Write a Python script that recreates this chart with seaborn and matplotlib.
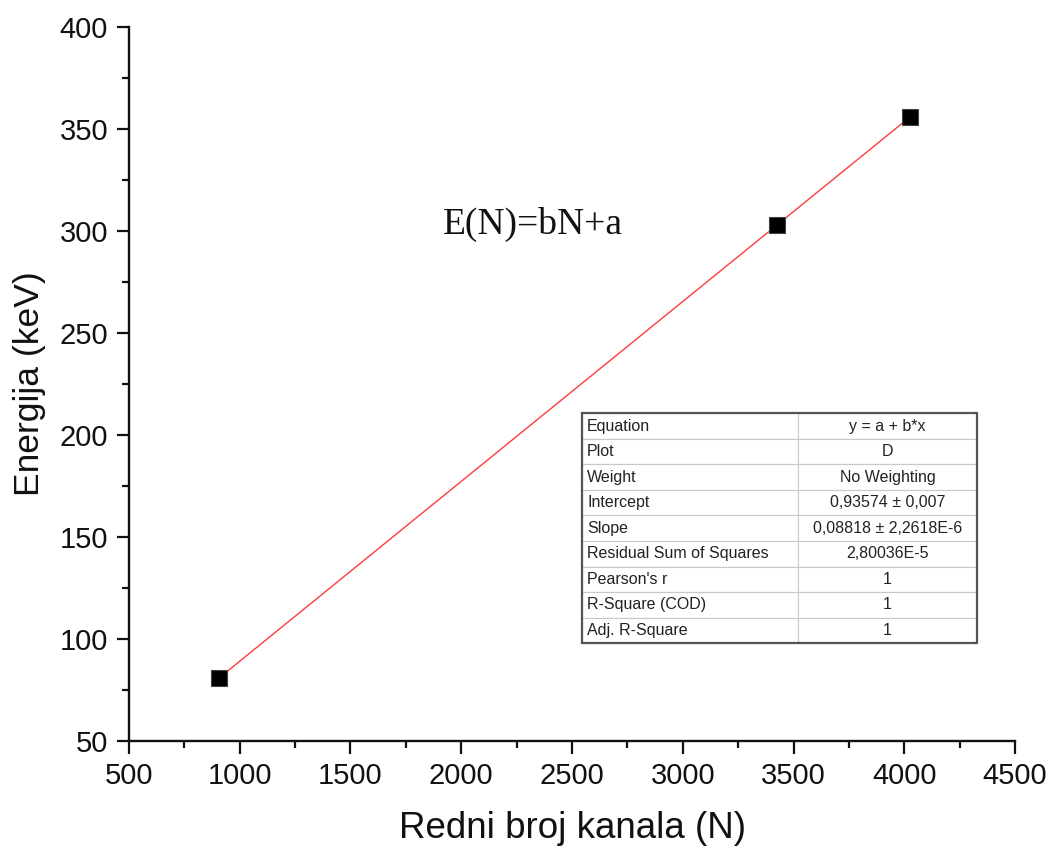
import matplotlib
matplotlib.use("Agg")
import matplotlib.pyplot as plt
import seaborn as sns
import numpy as np
import pandas as pd
from matplotlib.ticker import MultipleLocator
from matplotlib.patches import Rectangle

channels = [908, 3424, 4027]
energies = [81.0, 302.85, 356.01]

table_labels = ["Equation", "Plot", "Weight", "Intercept", "Slope",
                "Residual Sum of Squares", "Pearson's r", "R-Square (COD)", "Adj. R-Square"]
table_values = ["y = a + b*x", "D", "No Weighting", "0,93574 ± 0,007",
                "0,08818 ± 2,2618E-6", "2,80036E-5", "1", "1", "1"]

sns.set_theme(style="ticks")
plt.rcParams['font.family'] = ['Liberation Sans', 'DejaVu Sans']

df = pd.DataFrame({"N": channels, "E": energies})

fig = plt.figure(figsize=(10.51, 8.5), dpi=100)
ax = fig.add_axes([0.1227, 0.1282, 0.8431, 0.8400])

sns.regplot(data=df, x="N", y="E", ax=ax, scatter=False, ci=None,
            line_kws=dict(color="#ff3b3b", lw=1.0), truncate=True)
sns.scatterplot(data=df, x="N", y="E", ax=ax, marker="s", s=135,
                color="black", edgecolor="#444444", linewidth=0.8, zorder=5)

ax.set_xlim(500, 4500)
ax.set_ylim(50, 400)
ax.xaxis.set_major_locator(MultipleLocator(500))
ax.xaxis.set_minor_locator(MultipleLocator(250))
ax.yaxis.set_major_locator(MultipleLocator(50))
ax.yaxis.set_minor_locator(MultipleLocator(25))
ax.tick_params(which="major", direction="out", length=9, width=1.6,
               labelsize=21, colors="#111111", pad=6)
ax.tick_params(which="minor", direction="out", length=5, width=1.6, colors="#111111")
for s in ["left", "bottom"]:
    ax.spines[s].set_linewidth(1.7)
    ax.spines[s].set_color("#111111")
sns.despine(ax=ax)

ax.set_xlabel("Redni broj kanala (N)", fontsize=26.5, labelpad=15, color="#111111")
ax.set_ylabel("Energija (keV)", fontsize=25.5, labelpad=10, color="#111111")

ax.text(1918, 303, "E(N)=bN+a", fontsize=27, family=["Liberation Serif", "DejaVu Serif"],
        va="center", ha="left", color="#111111")

cell_text = [[l, v] for l, v in zip(table_labels, table_values)]
tbl = ax.table(cellText=cell_text, colWidths=[0.547, 0.453],
               bbox=[0.511, 0.137, 0.446, 0.322], zorder=6)
tbl.auto_set_font_size(False)
for (r, c), cell in tbl.get_celld().items():
    cell.set_edgecolor("#c8c8c8")
    cell.set_linewidth(0.8)
    cell.get_text().set_fontsize(11.5)
    cell.get_text().set_color("#222222")
    if c == 0:
        cell.get_text().set_ha("left")
        cell.PAD = 0.025
    else:
        cell.get_text().set_ha("center")
ax.add_patch(Rectangle((0.511, 0.137), 0.446, 0.322, transform=ax.transAxes,
                       fill=False, edgecolor="#555555", lw=1.6, zorder=7))

fig.savefig("out.png", dpi=100)
